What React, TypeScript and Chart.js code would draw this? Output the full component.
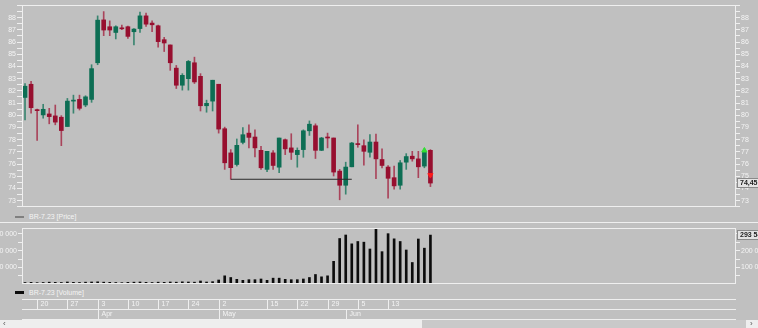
import React, { useEffect, useRef } from 'react';
import { Chart, registerables } from 'chart.js';

Chart.register(...registerables);

// ---------------- DATA ----------------
const dates = [
  '03-16', '03-17',
  '03-20', '03-21', '03-22', '03-23', '03-24',
  '03-27', '03-28', '03-29', '03-30', '03-31',
  '04-03', '04-04', '04-05', '04-06', '04-07',
  '04-10', '04-11', '04-12', '04-13', '04-14',
  '04-17', '04-18', '04-19', '04-20', '04-21',
  '04-24', '04-25', '04-26', '04-27', '04-28',
  '05-02', '05-03', '05-04', '05-05', '05-08', '05-10', '05-11', '05-12',
  '05-15', '05-16', '05-17', '05-18', '05-19',
  '05-22', '05-23', '05-24', '05-25', '05-26',
  '05-29', '05-30', '05-31', '06-01', '06-02',
  '06-05', '06-06', '06-07', '06-08', '06-09',
  '06-13', '06-14', '06-15', '06-16',
  '06-19', '06-20', '06-21', '06-22',
];

const open = [
  81.46, 82.54, 80.45, 80.03, 80.11, 79.95, 79.84, 79.08, 81.16, 81.30,
  80.84, 81.30, 84.30, 87.81, 87.25, 86.78, 87.12, 87.25, 86.84, 87.10,
  88.14, 87.55, 87.33, 86.19, 85.76, 83.86, 82.46, 83.00, 84.30, 83.19,
  80.78, 81.16, 82.54, 78.90, 76.92, 75.97, 77.78, 78.54, 78.22, 77.13,
  75.57, 76.92, 75.75, 78.00, 77.33, 76.78, 77.19, 78.73, 79.14, 77.13,
  78.16, 78.14, 75.43, 74.27, 75.78, 77.68, 77.51, 76.97, 77.81, 76.38,
  75.76, 74.89, 74.27, 76.16, 76.65, 76.43, 75.84, 77.13,
];
const high = [
  82.60, 82.79, 80.50, 80.90, 80.57, 80.84, 79.97, 81.38, 81.65, 81.65,
  81.60, 84.14, 88.14, 88.49, 87.73, 87.33, 87.38, 87.30, 87.10, 88.46,
  88.36, 87.73, 87.38, 86.38, 85.76, 84.08, 83.41, 84.49, 84.76, 83.41,
  81.24, 82.87, 82.54, 79.03, 77.19, 78.06, 79.00, 79.22, 78.81, 77.46,
  77.05, 77.11, 78.14, 78.06, 78.49, 77.33, 78.81, 79.54, 79.30, 78.19,
  78.54, 78.14, 75.57, 76.16, 77.78, 79.22, 78.00, 78.41, 78.46, 77.25,
  75.89, 75.84, 76.30, 76.86, 77.05, 77.05, 77.25, 77.19,
];
const low = [
  79.62, 80.17, 77.95, 79.76, 79.30, 79.22, 77.51, 79.08, 80.17, 80.43,
  80.70, 81.06, 84.14, 86.52, 86.52, 86.25, 87.00, 86.30, 85.76, 86.78,
  87.27, 86.84, 85.57, 85.22, 83.68, 82.19, 82.06, 82.06, 82.60, 80.35,
  80.25, 80.35, 78.54, 75.57, 74.76, 75.84, 77.65, 77.33, 76.60, 75.57,
  75.38, 75.57, 75.30, 76.78, 76.38, 75.75, 76.56, 78.35, 76.46, 77.10,
  77.33, 75.03, 73.08, 73.54, 75.78, 77.38, 75.92, 76.57, 74.81, 75.70,
  73.22, 73.95, 73.95, 75.57, 76.24, 74.89, 75.70, 74.16,
];
const close = [
  82.38, 80.62, 80.38, 80.49, 79.89, 79.44, 78.75, 81.16, 81.22, 80.57,
  81.51, 83.82, 87.79, 86.98, 86.98, 87.25, 87.08, 86.46, 87.06, 88.14,
  87.46, 87.41, 86.03, 85.92, 84.30, 82.46, 83.27, 84.41, 82.73, 80.78,
  80.98, 82.87, 78.87, 76.11, 75.71, 77.54, 78.41, 78.19, 77.33, 75.70,
  77.05, 75.89, 78.14, 77.25, 76.97, 77.13, 78.73, 79.27, 77.13, 78.14,
  78.14, 75.35, 74.27, 75.76, 77.73, 77.60, 77.05, 77.81, 76.43, 75.89,
  74.84, 74.22, 76.11, 76.62, 76.43, 75.78, 77.05, 74.45,
];

const volume = [
  9000, 10000, 8000, 9000, 11000, 10000, 9000, 12000, 10000, 9000,
  11000, 12000, 13000, 11000, 10000, 9000, 8000, 10000, 11000, 12000,
  10000, 9000, 11000, 10000, 12000, 11000, 13000, 12000, 11000, 18000,
  12000, 14000, 24000, 49000, 39000, 28000, 22000, 26000, 26000, 30000,
  22000, 35000, 35000, 28000, 26000, 26000, 30000, 39000, 57000, 43000,
  49000, 136000, 273000, 294000, 241000, 255000, 251000, 210000, 330000, 194000,
  302000, 271000, 255000, 204000, 129000, 270000, 215000, 293540,
];

const volumeTickValues = [50000, 100000, 150000, 200000, 250000, 300000];
const volumeTickLabels = ['', '100 000', '', '200 000', '', '300 000'];

const weekTickDates = ['03-20', '03-27', '04-03', '04-10', '04-17', '04-24', '05-02', '05-15', '05-22', '05-29', '06-05', '06-13'];
const weekTickLabels = ['20', '27', '3', '10', '17', '24', '2', '15', '22', '29', '5', '13'];
const monthTickDates = ['04-03', '05-02', '06-01'];
const monthTickLabels = ['Apr', 'May', 'Jun'];

const levelStartDate = '05-04';
const levelEndDate = '06-02';
const levelPrice = 74.76;
const buyMarkerDate = '06-21';
const buyMarkerPrice = 77.12;
const sellMarkerDate = '06-22';
const sellMarkerPrice = 75.1;

const priceLegend = 'BR-7.23 [Price]';
const volumeLegend = 'BR-7.23 [Volume]';

// ---------------- STYLE ----------------
const BG = '#c0c0c0';
const LINE = '#efefef';
const TEXT = '#f4f4f4';
const FONT = "'Liberation Sans', Arial, sans-serif";
const UP = '#0d6e54';
const DOWN = '#970f2f';
const UP_WICK = '#3a8570';
const DOWN_WICK = '#a9445b';
const X_MIN = -0.5;
const X_MAX = 117.5;

const fmtThousands = (v: number) => String(Math.round(v)).replace(/\B(?=(\d{3})+(?!\d))/g, ' ');

const framePlugin = {
  id: 'frame',
  afterDraw(chart: any) {
    const { left, top, right, bottom } = chart.chartArea;
    const ctx = chart.ctx;
    ctx.save();
    ctx.strokeStyle = LINE;
    ctx.lineWidth = 1;
    ctx.strokeRect(Math.round(left) + 0.5, Math.round(top) + 0.5, Math.round(right - left) - 1, Math.round(bottom - top) - 1);
    ctx.restore();
  },
};

const valueBox = (chart: any, value: number, text: string) => {
  const ctx = chart.ctx;
  const y = Math.round(chart.scales.y.getPixelForValue(value));
  const x = Math.round(chart.chartArea.right) + 1;
  ctx.save();
  ctx.fillStyle = '#e4e4e4';
  ctx.fillRect(x, y - 5, 30, 10);
  ctx.strokeStyle = '#8a8a8a';
  ctx.lineWidth = 1;
  ctx.strokeRect(x + 0.5, y - 4.5, 30, 9);
  ctx.fillStyle = '#222';
  ctx.font = `bold 7px ${FONT}`;
  ctx.textBaseline = 'middle';
  ctx.textAlign = 'left';
  ctx.fillText(text, x + 3, y + 0.5);
  ctx.restore();
};

const axisFit = (w: number) => (s: any) => {
  s.width = w;
  s.paddingTop = 0;
  s.paddingBottom = 0;
};

function PriceChart() {
  const ref = useRef<HTMLCanvasElement>(null);
  useEffect(() => {
    const idx = dates.map((_, i) => i);
    const up = idx.map((i) => close[i] >= open[i]);
    const last = close.length - 1;
    const priceLabel = (value: any) => {
      const v = Number(value);
      return Number.isInteger(v) && v >= 73 && v <= 88 ? String(v) : '';
    };
    const yAxis = (position: 'left' | 'right', tickLen: number) => ({
      position,
      min: 72.49,
      max: 89.03,
      afterFit: axisFit(22),
      grid: { drawOnChartArea: false, color: LINE, tickLength: tickLen, tickWidth: 1 },
      border: { display: false },
      ticks: {
        stepSize: 0.5,
        includeBounds: false,
        autoSkip: false,
        padding: 1,
        color: TEXT,
        font: { size: 7, family: FONT },
        callback: priceLabel,
      },
    });
    const lastBox = {
      id: 'lastPrice',
      afterDraw(chart: any) {
        valueBox(chart, close[last], close[last].toFixed(2).replace('.', ','));
      },
    };
    const chart = new Chart(ref.current as HTMLCanvasElement, {
      type: 'bar',
      data: {
        datasets: [
          {
            type: 'line',
            data: [
              { x: dates.indexOf(levelStartDate), y: levelPrice },
              { x: dates.indexOf(levelEndDate), y: levelPrice },
            ],
            borderColor: '#2a2a2a',
            borderWidth: 1,
            pointRadius: 0,
            order: 1,
          } as any,
          {
            type: 'line',
            data: [{ x: dates.indexOf(buyMarkerDate), y: buyMarkerPrice }],
            showLine: false,
            pointStyle: 'triangle',
            pointRadius: 3,
            backgroundColor: '#33e033',
            borderColor: '#33e033',
            borderWidth: 1,
            order: 0,
          } as any,
          {
            type: 'line',
            data: [{ x: dates.indexOf(sellMarkerDate), y: sellMarkerPrice }],
            showLine: false,
            pointStyle: 'triangle',
            rotation: 180,
            pointRadius: 3,
            backgroundColor: '#ff1a1a',
            borderColor: '#ff1a1a',
            borderWidth: 1,
            order: 0,
          } as any,
          {
            type: 'bar',
            data: idx.map((i) => ({ x: i, y: [low[i], high[i]] })),
            backgroundColor: idx.map((i) => (up[i] ? UP_WICK : DOWN_WICK)),
            barThickness: 1,
            grouped: false,
            borderWidth: 0,
            order: 3,
          } as any,
          {
            type: 'bar',
            data: idx.map((i) => ({ x: i, y: [Math.min(open[i], close[i]), Math.max(open[i], close[i])] })),
            backgroundColor: idx.map((i) => (up[i] ? UP : DOWN)),
            barThickness: 4,
            minBarLength: 1,
            grouped: false,
            borderWidth: 0,
            order: 2,
          } as any,
        ],
      },
      options: {
        responsive: false,
        animation: false,
        events: [],
        layout: { padding: { top: 4, bottom: 4, left: 0, right: 0 } },
        plugins: { legend: { display: false }, tooltip: { enabled: false } },
        scales: {
          x: { type: 'linear', min: X_MIN, max: X_MAX, offset: false, display: false },
          y: yAxis('left', 5),
          yR: yAxis('right', 4),
        } as any,
      },
      plugins: [framePlugin, lastBox],
    });
    return () => chart.destroy();
  }, []);
  return <canvas ref={ref} width={758} height={212} style={{ position: 'absolute', left: 0, top: 0 }} />;
}

function VolumeChart() {
  const ref = useRef<HTMLCanvasElement>(null);
  useEffect(() => {
    const idx = dates.map((_, i) => i);
    const last = volume.length - 1;
    const yAxis = (position: 'left' | 'right') => ({
      position,
      min: 0,
      max: 336000,
      afterFit: axisFit(22),
      afterBuildTicks: (s: any) => {
        s.ticks = volumeTickValues.map((v) => ({ value: v }));
      },
      grid: { drawOnChartArea: false, color: LINE, tickLength: 4, tickWidth: 1 },
      border: { display: false },
      ticks: {
        autoSkip: false,
        padding: 1,
        color: TEXT,
        font: { size: 7, family: FONT },
        callback: (_v: any, i: number) => volumeTickLabels[i] ?? '',
      },
    });
    const lastBox = {
      id: 'lastVolume',
      afterDraw(chart: any) {
        valueBox(chart, volume[last], fmtThousands(volume[last]));
      },
    };
    const chart = new Chart(ref.current as HTMLCanvasElement, {
      type: 'bar',
      data: {
        datasets: [
          {
            data: idx.map((i) => ({ x: i, y: volume[i] })),
            backgroundColor: '#0c0c0c',
            barThickness: 2,
            borderWidth: 0,
          } as any,
        ],
      },
      options: {
        responsive: false,
        animation: false,
        events: [],
        layout: { padding: { top: 4, bottom: 4, left: 0, right: 0 } },
        plugins: { legend: { display: false }, tooltip: { enabled: false } },
        scales: {
          x: { type: 'linear', min: X_MIN, max: X_MAX, offset: false, display: false },
          y: yAxis('left'),
          yR: yAxis('right'),
        } as any,
      },
      plugins: [framePlugin, lastBox],
    });
    return () => chart.destroy();
  }, []);
  return <canvas ref={ref} width={758} height={64} style={{ position: 'absolute', left: 0, top: 224 }} />;
}

function DateAxis() {
  const ref = useRef<HTMLCanvasElement>(null);
  useEffect(() => {
    const table = {
      id: 'dateTable',
      afterDraw(chart: any) {
        const ctx = chart.ctx;
        const xs = chart.scales.x;
        const { left, right } = chart.chartArea;
        ctx.save();
        ctx.strokeStyle = LINE;
        ctx.lineWidth = 1;
        [3, 13, 23].forEach((y) => {
          ctx.beginPath();
          ctx.moveTo(left, y + 0.5);
          ctx.lineTo(right, y + 0.5);
          ctx.stroke();
        });
        ctx.font = `7px ${FONT}`;
        ctx.fillStyle = TEXT;
        ctx.textBaseline = 'middle';
        ctx.textAlign = 'left';
        const row = (ds: string[], labels: string[], y0: number) => {
          ds.forEach((d, k) => {
            const x = Math.round(xs.getPixelForValue(dates.indexOf(d))) + 0.5;
            ctx.beginPath();
            ctx.moveTo(x, y0 + 0.5);
            ctx.lineTo(x, y0 + 10.5);
            ctx.stroke();
            ctx.fillText(labels[k], x + 3, y0 + 5.5);
          });
        };
        row(weekTickDates, weekTickLabels, 3);
        row(monthTickDates, monthTickLabels, 13);
        ctx.restore();
      },
    };
    const chart = new Chart(ref.current as HTMLCanvasElement, {
      type: 'scatter',
      data: { datasets: [] },
      options: {
        responsive: false,
        animation: false,
        events: [],
        layout: { padding: { top: 0, bottom: 0, left: 22, right: 22 } },
        plugins: { legend: { display: false }, tooltip: { enabled: false } },
        scales: {
          x: { type: 'linear', min: X_MIN, max: X_MAX, offset: false, display: false },
          y: { display: false, min: 0, max: 1 },
        },
      },
      plugins: [table],
    });
    return () => chart.destroy();
  }, []);
  return <canvas ref={ref} width={758} height={24} style={{ position: 'absolute', left: 0, top: 296 }} />;
}

function Legend({ top, text, color, thick }: { top: number; text: string; color: string; thick: number }) {
  return (
    <>
      <div style={{ position: 'absolute', left: 15, top: top - thick / 2, width: 9, height: thick, background: color }} />
      <div
        style={{
          position: 'absolute',
          left: 29,
          top: top - 5,
          height: 10,
          lineHeight: '10px',
          fontFamily: FONT,
          fontSize: 7,
          color: TEXT,
          whiteSpace: 'nowrap',
        }}
      >
        {text}
      </div>
    </>
  );
}

export default function App() {
  return (
    <div style={{ position: 'fixed', left: 0, top: 0, width: 758, height: 328, background: BG, overflow: 'hidden' }}>
      <PriceChart />
      <Legend top={216.5} text={priceLegend} color="#808080" thick={2} />
      <div style={{ position: 'absolute', left: 0, top: 222, width: 758, height: 1, background: LINE }} />
      <VolumeChart />
      <Legend top={292.5} text={volumeLegend} color="#0c0c0c" thick={3} />
      <DateAxis />
      <div style={{ position: 'absolute', left: 0, top: 320, width: 758, height: 8, background: '#eeeeee' }} />
      <div style={{ position: 'absolute', left: 422, top: 320, width: 324, height: 8, background: '#c9c9c9' }} />
      <div style={{ position: 'absolute', left: 3, top: 319, fontSize: 8, lineHeight: '9px', color: '#555', fontFamily: FONT }}>‹</div>
      <div style={{ position: 'absolute', left: 750, top: 319, fontSize: 8, lineHeight: '9px', color: '#555', fontFamily: FONT }}>›</div>
    </div>
  );
}
